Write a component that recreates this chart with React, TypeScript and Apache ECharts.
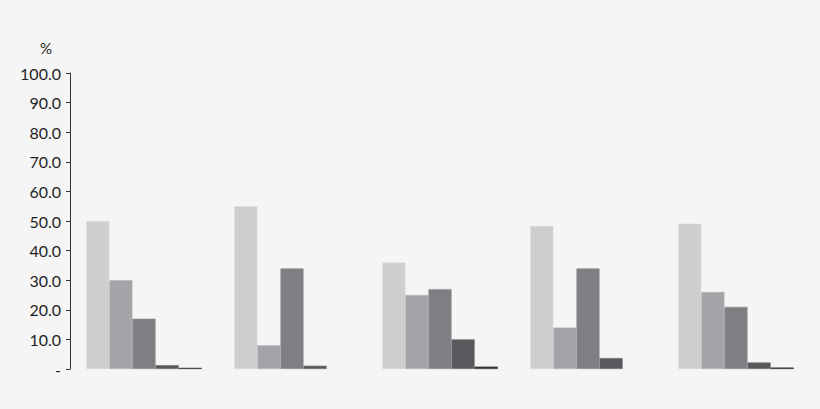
import { useEffect, useRef } from 'react';
import * as echarts from 'echarts';

const categories = ['A', 'B', 'C', 'D', 'E'];
const series1 = [50, 55, 36, 48.3, 49.1];
const series2 = [30, 8, 25, 14, 26];
const series3 = [17, 34, 27, 34, 21];
const series4 = [1.3, 1.1, 10, 3.7, 2.2];
const series5 = [0.4, 0, 0.8, 0, 0.5];
const yTicks = [0, 10, 20, 30, 40, 50, 60, 70, 80, 90, 100];

const colors = ['#cdced0', '#a2a4a7', '#7e7f83', '#58595c', '#333436'];
const borders = ['#dcdddf', '#b4b6b8', '#909195', '#6a6b6e', '#333436'];

export default function App() {
    const ref = useRef<HTMLDivElement | null>(null);

    useEffect(() => {
        document.body.style.margin = '0';
        document.body.style.background = '#f5f5f5';
        if (!ref.current) return;
        const chart = echarts.init(ref.current, undefined, { renderer: 'svg' });
        const font = 'Lato, "Open Sans", sans-serif';
        const data = [series1, series2, series3, series4, series5];
        chart.setOption({
            animation: false,
            backgroundColor: '#f5f5f5',
            grid: { left: 70, right: 10, top: 73, bottom: 40 },
            graphic: [
                {
                    type: 'text',
                    left: 40,
                    top: 40,
                    style: { text: '%', fontSize: 15, fontFamily: font, fill: '#222' }
                }
            ],
            xAxis: {
                type: 'category',
                data: categories,
                axisLine: { show: false },
                axisTick: { show: false },
                axisLabel: { show: false }
            },
            yAxis: {
                type: 'value',
                min: yTicks[0],
                max: yTicks[yTicks.length - 1],
                interval: 10,
                splitLine: { show: false },
                axisLine: { show: true, lineStyle: { color: '#333', width: 1 } },
                axisTick: { show: true, length: 4, lineStyle: { color: '#333' } },
                axisLabel: {
                    margin: 9,
                    fontSize: 16,
                    fontFamily: font,
                    color: '#1e1e1e',
                    formatter: (v: number) => (v === 0 ? '-' : v.toFixed(1))
                }
            },
            series: data.map((d, i) => ({
                type: 'bar',
                data: d.map((v) => (v === 0 ? '-' : v)),
                barGap: '0%',
                barCategoryGap: '22%',
                itemStyle: { color: colors[i], borderColor: borders[i], borderWidth: 0.6 }
            }))
        });
        return () => chart.dispose();
    }, []);

    return <div ref={ref} style={{ width: 820, height: 409 }} />;
}
